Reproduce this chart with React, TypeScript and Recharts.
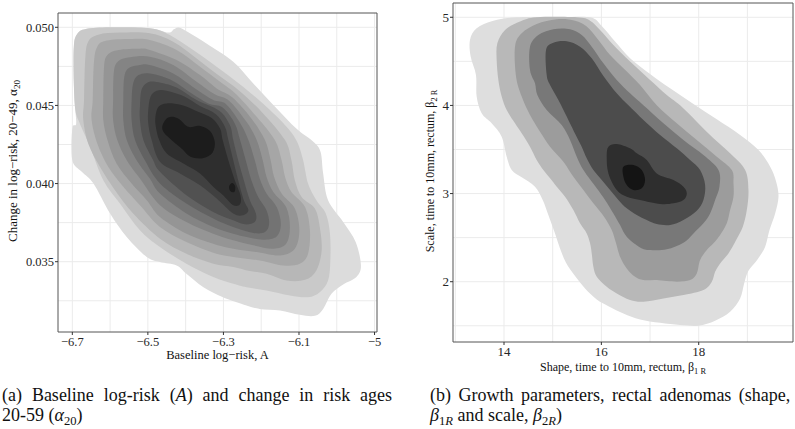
import React from 'react'
import { ScatterChart, Scatter, XAxis, YAxis, CartesianGrid, ReferenceArea } from 'recharts'

type Pt = [number, number]

// ---- panel (a): baseline log-risk A vs change in log-risk alpha20, density bands outer -> inner
const aBand1: Pt[] = [[-6.696,0.04641],[-6.696,0.04876],[-6.687,0.04957],[-6.664,0.04989],[-6.600,0.05000],[-6.495,0.04994],[-6.446,0.04966],[-6.431,0.04987],[-6.418,0.04998],[-6.393,0.04968],[-6.345,0.04897],[-6.274,0.04780],[-6.221,0.04641],[-6.159,0.04481],[-6.107,0.04352],[-6.062,0.04267],[-6.043,0.04203],[-6.036,0.04064],[-6.023,0.03893],[-5.983,0.03754],[-5.950,0.03626],[-5.936,0.03476],[-5.948,0.03402],[-5.983,0.03354],[-6.014,0.03295],[-6.036,0.03198],[-6.058,0.03154],[-6.098,0.03160],[-6.150,0.03188],[-6.204,0.03198],[-6.239,0.03220],[-6.301,0.03273],[-6.353,0.03337],[-6.398,0.03423],[-6.424,0.03476],[-6.468,0.03498],[-6.503,0.03530],[-6.556,0.03658],[-6.600,0.03808],[-6.644,0.04000],[-6.675,0.04075],[-6.700,0.04149],[-6.700,0.04352],[-6.690,0.04380],[-6.692,0.04470]]
const aBand2: Pt[] = [[-6.696,0.04641],[-6.696,0.04876],[-6.687,0.04957],[-6.664,0.04989],[-6.600,0.05000],[-6.495,0.04994],[-6.442,0.04951],[-6.380,0.04855],[-6.318,0.04748],[-6.248,0.04620],[-6.186,0.04491],[-6.133,0.04363],[-6.105,0.04267],[-6.089,0.04149],[-6.076,0.04000],[-6.054,0.03893],[-6.029,0.03808],[-6.018,0.03679],[-6.017,0.03508],[-6.023,0.03380],[-6.045,0.03305],[-6.076,0.03273],[-6.124,0.03284],[-6.186,0.03316],[-6.239,0.03337],[-6.274,0.03359],[-6.327,0.03402],[-6.398,0.03487],[-6.468,0.03594],[-6.521,0.03701],[-6.574,0.03872],[-6.618,0.04021],[-6.653,0.04235],[-6.681,0.04389],[-6.692,0.04470]]
const aBand3: Pt[] = [[-6.669,0.04534],[-6.666,0.04791],[-6.658,0.04908],[-6.631,0.04953],[-6.574,0.04966],[-6.495,0.04962],[-6.433,0.04908],[-6.371,0.04801],[-6.314,0.04694],[-6.258,0.04594],[-6.195,0.04449],[-6.137,0.04278],[-6.120,0.04149],[-6.111,0.04021],[-6.093,0.03914],[-6.058,0.03840],[-6.045,0.03722],[-6.040,0.03572],[-6.054,0.03444],[-6.084,0.03384],[-6.133,0.03380],[-6.186,0.03423],[-6.230,0.03440],[-6.274,0.03466],[-6.327,0.03487],[-6.398,0.03551],[-6.468,0.03647],[-6.539,0.03808],[-6.587,0.03957],[-6.627,0.04107],[-6.658,0.04256],[-6.671,0.04406]]
const aBand4: Pt[] = [[-6.646,0.04534],[-6.643,0.04769],[-6.634,0.04876],[-6.609,0.04915],[-6.547,0.04925],[-6.495,0.04919],[-6.424,0.04855],[-6.362,0.04748],[-6.309,0.04652],[-6.267,0.04573],[-6.212,0.04427],[-6.164,0.04278],[-6.146,0.04149],[-6.137,0.04043],[-6.120,0.03946],[-6.084,0.03850],[-6.071,0.03701],[-6.076,0.03551],[-6.098,0.03487],[-6.142,0.03476],[-6.204,0.03508],[-6.274,0.03530],[-6.327,0.03558],[-6.398,0.03626],[-6.468,0.03722],[-6.521,0.03861],[-6.565,0.03979],[-6.605,0.04107],[-6.634,0.04256],[-6.649,0.04406]]
const aBand5: Pt[] = [[-6.618,0.04534],[-6.616,0.04748],[-6.607,0.04823],[-6.578,0.04855],[-6.521,0.04863],[-6.495,0.04855],[-6.424,0.04791],[-6.362,0.04694],[-6.318,0.04609],[-6.276,0.04551],[-6.226,0.04417],[-6.190,0.04278],[-6.175,0.04149],[-6.166,0.04043],[-6.146,0.03936],[-6.111,0.03840],[-6.099,0.03701],[-6.111,0.03583],[-6.150,0.03540],[-6.212,0.03562],[-6.274,0.03583],[-6.327,0.03615],[-6.398,0.03679],[-6.468,0.03786],[-6.503,0.03893],[-6.543,0.04000],[-6.583,0.04128],[-6.607,0.04278],[-6.618,0.04406]]
const aBand6: Pt[] = [[-6.592,0.04534],[-6.590,0.04716],[-6.578,0.04784],[-6.547,0.04808],[-6.495,0.04812],[-6.433,0.04759],[-6.371,0.04652],[-6.323,0.04571],[-6.285,0.04530],[-6.239,0.04395],[-6.212,0.04278],[-6.196,0.04149],[-6.186,0.04043],[-6.168,0.03946],[-6.134,0.03850],[-6.124,0.03722],[-6.134,0.03615],[-6.168,0.03583],[-6.221,0.03605],[-6.274,0.03637],[-6.327,0.03679],[-6.398,0.03754],[-6.468,0.03861],[-6.521,0.04032],[-6.556,0.04149],[-6.581,0.04278],[-6.592,0.04406]]
const aBand7: Pt[] = [[-6.565,0.04534],[-6.563,0.04673],[-6.552,0.04737],[-6.521,0.04759],[-6.495,0.04759],[-6.433,0.04705],[-6.371,0.04602],[-6.327,0.04534],[-6.293,0.04508],[-6.255,0.04385],[-6.234,0.04278],[-6.217,0.04149],[-6.204,0.04032],[-6.186,0.03936],[-6.159,0.03850],[-6.148,0.03743],[-6.159,0.03662],[-6.195,0.03641],[-6.239,0.03658],[-6.274,0.03679],[-6.327,0.03722],[-6.398,0.03808],[-6.468,0.03936],[-6.495,0.04032],[-6.530,0.04149],[-6.556,0.04278],[-6.565,0.04406]]
const aBand8: Pt[] = [[-6.543,0.04534],[-6.539,0.04641],[-6.525,0.04694],[-6.495,0.04705],[-6.442,0.04667],[-6.384,0.04577],[-6.340,0.04513],[-6.302,0.04487],[-6.270,0.04385],[-6.256,0.04278],[-6.241,0.04149],[-6.226,0.04021],[-6.208,0.03914],[-6.186,0.03829],[-6.179,0.03743],[-6.190,0.03690],[-6.221,0.03684],[-6.274,0.03722],[-6.327,0.03776],[-6.398,0.03872],[-6.468,0.04000],[-6.508,0.04149],[-6.534,0.04278],[-6.543,0.04406]]
const aBand9: Pt[] = [[-6.521,0.04491],[-6.517,0.04598],[-6.502,0.04645],[-6.477,0.04650],[-6.424,0.04615],[-6.371,0.04534],[-6.311,0.04466],[-6.283,0.04374],[-6.274,0.04278],[-6.261,0.04149],[-6.246,0.04021],[-6.230,0.03893],[-6.214,0.03808],[-6.217,0.03754],[-6.243,0.03739],[-6.274,0.03765],[-6.327,0.03818],[-6.398,0.03925],[-6.468,0.04075],[-6.486,0.04149],[-6.512,0.04278],[-6.521,0.04406]]
const aBand10: Pt[] = [[-6.499,0.04470],[-6.493,0.04556],[-6.477,0.04594],[-6.450,0.04594],[-6.402,0.04556],[-6.362,0.04496],[-6.320,0.04444],[-6.296,0.04363],[-6.287,0.04278],[-6.274,0.04149],[-6.261,0.04021],[-6.246,0.03893],[-6.234,0.03829],[-6.248,0.03797],[-6.274,0.03808],[-6.318,0.03904],[-6.362,0.03989],[-6.415,0.04064],[-6.468,0.04139],[-6.490,0.04278],[-6.499,0.04385]]
const aBand11: Pt[] = [[-6.480,0.04427],[-6.472,0.04491],[-6.450,0.04513],[-6.411,0.04502],[-6.367,0.04459],[-6.331,0.04419],[-6.309,0.04352],[-6.302,0.04278],[-6.287,0.04149],[-6.270,0.04021],[-6.255,0.03925],[-6.256,0.03867],[-6.274,0.03861],[-6.301,0.03925],[-6.327,0.03979],[-6.362,0.04064],[-6.406,0.04128],[-6.450,0.04192],[-6.470,0.04278],[-6.479,0.04363]]
const aBand12: Pt[] = [[-6.461,0.04374],[-6.446,0.04423],[-6.420,0.04417],[-6.393,0.04363],[-6.364,0.04370],[-6.336,0.04338],[-6.323,0.04267],[-6.329,0.04197],[-6.355,0.04162],[-6.387,0.04171],[-6.411,0.04224],[-6.442,0.04288],[-6.459,0.04331]]
const aSpot: Pt[] = [[-6.277,0.04004],[-6.269,0.03983],[-6.271,0.03946],[-6.282,0.03953],[-6.285,0.03983]]

const aLevels = [aBand1, aBand2, aBand3, aBand4, aBand5, aBand6, aBand7, aBand8, aBand9, aBand10, aBand11, aBand12, aSpot]
const aFills = ['#dcdcdc', '#c9c9c9', '#b7b7b7', '#a6a6a6', '#959595', '#848484', '#737373', '#626262', '#515151', '#404040', '#2e2e2e', '#1c1c1c', '#1c1c1c']

const aXTicks = [-6.7, -6.5, -6.3, -6.1, -5.9]
const aXGrid = [-6.7, -6.6, -6.5, -6.4, -6.3, -6.2, -6.1, -6.0, -5.9]
const aYTicks = [0.035, 0.04, 0.045, 0.05]
const aYGrid = [0.0325, 0.035, 0.0375, 0.04, 0.0425, 0.045, 0.0475, 0.05]
const aXDomain: Pt = [-6.7379, -5.8935]
const aYDomain: Pt = [0.030501, 0.050915]

// ---- panel (b): shape beta1R vs scale beta2R, rectal adenomas
const bBand1: Pt[] = [[13.315,4.554],[13.301,4.743],[13.438,4.875],[13.781,4.962],[14.260,5.000],[15.151,5.000],[15.768,5.000],[16.008,4.902],[16.282,4.724],[16.590,4.535],[17.001,4.357],[17.412,4.194],[17.892,4.016],[18.371,3.842],[18.851,3.664],[19.228,3.494],[19.468,3.305],[19.591,3.135],[19.639,2.964],[19.570,2.775],[19.454,2.586],[19.365,2.397],[19.207,2.253],[19.022,2.124],[18.933,1.981],[18.851,1.810],[18.645,1.659],[18.337,1.557],[17.995,1.500],[17.618,1.508],[17.207,1.534],[16.795,1.572],[16.453,1.640],[16.145,1.723],[15.905,1.799],[15.665,1.924],[15.459,2.064],[15.274,2.215],[15.151,2.378],[15.048,2.548],[14.911,2.756],[14.795,2.927],[14.637,3.078],[14.363,3.184],[14.158,3.267],[14.055,3.418],[13.952,3.645],[13.746,3.797],[13.541,3.910],[13.438,4.100],[13.424,4.345]]
const bBand2: Pt[] = [[13.849,4.516],[13.863,4.705],[14.021,4.856],[14.329,4.951],[14.671,5.000],[15.494,5.000],[15.768,4.962],[15.973,4.856],[16.247,4.686],[16.590,4.497],[17.001,4.289],[17.344,4.118],[17.618,4.001],[17.960,3.816],[18.303,3.627],[18.645,3.456],[18.954,3.267],[19.022,3.040],[18.988,2.813],[18.906,2.624],[18.769,2.473],[18.611,2.321],[18.440,2.208],[18.337,2.113],[18.269,2.000],[18.097,1.905],[17.686,1.848],[17.275,1.810],[16.864,1.773],[16.590,1.792],[16.316,1.867],[16.110,1.943],[15.905,2.056],[15.836,2.170],[15.802,2.321],[15.768,2.435],[15.699,2.548],[15.562,2.662],[15.425,2.813],[15.254,2.964],[15.083,3.078],[14.946,3.173],[14.808,3.267],[14.671,3.381],[14.534,3.532],[14.363,3.684],[14.226,3.797],[14.055,3.948],[13.952,4.100],[13.884,4.289]]
const bBand3: Pt[] = [[14.247,4.327],[14.226,4.667],[14.363,4.818],[14.671,4.924],[15.083,4.977],[15.459,4.962],[15.699,4.894],[15.939,4.743],[16.179,4.572],[16.453,4.421],[16.795,4.232],[17.138,4.001],[17.549,3.797],[17.960,3.608],[18.371,3.418],[18.680,3.267],[18.714,3.116],[18.714,2.964],[18.645,2.813],[18.577,2.662],[18.440,2.529],[18.303,2.435],[18.166,2.359],[18.029,2.246],[17.960,2.094],[17.823,2.019],[17.549,2.000],[17.138,2.019],[16.864,2.019],[16.693,2.056],[16.521,2.151],[16.384,2.283],[16.302,2.435],[16.213,2.586],[16.055,2.737],[15.836,2.889],[15.631,3.040],[15.425,3.191],[15.220,3.362],[14.946,3.532],[14.740,3.702],[14.534,3.891],[14.363,4.100]]
const bBand4: Pt[] = [[14.534,4.402],[14.534,4.667],[14.706,4.799],[15.014,4.864],[15.357,4.864],[15.596,4.799],[15.802,4.667],[16.042,4.478],[16.316,4.289],[16.590,4.137],[16.864,4.001],[17.275,3.797],[17.686,3.608],[18.097,3.437],[18.406,3.267],[18.426,3.078],[18.337,2.927],[18.234,2.775],[18.097,2.662],[17.892,2.548],[17.686,2.442],[17.344,2.367],[17.001,2.359],[16.795,2.389],[16.521,2.510],[16.384,2.643],[16.247,2.775],[16.076,2.927],[15.905,3.059],[15.631,3.267],[15.494,3.418],[15.357,3.608],[15.185,3.778],[14.877,3.948],[14.685,4.118],[14.637,4.251]]
const bBand5: Pt[] = [[14.877,4.345],[14.863,4.629],[15.014,4.712],[15.288,4.728],[15.562,4.667],[15.802,4.535],[16.042,4.334],[16.316,4.137],[16.556,4.001],[16.864,3.835],[17.207,3.664],[17.549,3.513],[17.823,3.381],[18.029,3.267],[18.132,3.097],[18.097,2.927],[17.960,2.806],[17.686,2.700],[17.412,2.643],[17.138,2.654],[16.932,2.700],[16.727,2.756],[16.521,2.832],[16.350,2.927],[16.179,3.040],[16.008,3.154],[15.836,3.267],[15.699,3.400],[15.596,3.532],[15.439,3.702],[15.288,3.873],[15.117,4.062],[14.946,4.232]]
const bBand6: Pt[] = [[16.145,3.532],[16.316,3.562],[16.590,3.513],[16.727,3.456],[16.932,3.381],[17.138,3.229],[17.481,3.154],[17.686,3.078],[17.755,3.002],[17.686,2.927],[17.481,2.889],[17.207,2.881],[16.795,2.927],[16.521,2.964],[16.316,3.040],[16.145,3.229],[16.110,3.418]]
const bBand7: Pt[] = [[16.453,3.305],[16.658,3.324],[16.830,3.267],[16.898,3.154],[16.830,3.059],[16.658,3.040],[16.521,3.097],[16.453,3.191]]

const bLevels = [bBand1, bBand2, bBand3, bBand4, bBand5, bBand6, bBand7]
const bFills = ['#dedede', '#b8b8b8', '#9c9c9c', '#787878', '#4c4c4c', '#2e2e2e', '#141414']

const bXTicks = [14, 16, 18]
const bXGrid = [13, 14, 15, 16, 17, 18, 19]
const bYTicks = [2, 3, 4, 5]
const bYGrid = [1.5, 2, 2.5, 3, 3.5, 4, 4.5, 5]
const bXDomain: Pt = [12.952, 19.937]
const bYDomain: Pt = [1.316, 5.162]

const serif = '"Liberation Serif", "Times New Roman", serif'

// closed catmull-rom through the pixel points recharts hands us
function smoothClosed(pts: { x: number; y: number }[]) {
  const n = pts.length
  let d = `M${pts[0].x},${pts[0].y}`
  for (let i = 0; i < n; i++) {
    const p0 = pts[(i - 1 + n) % n], p1 = pts[i], p2 = pts[(i + 1) % n], p3 = pts[(i + 2) % n]
    const c1x = p1.x + (p2.x - p0.x) / 6, c1y = p1.y + (p2.y - p0.y) / 6
    const c2x = p2.x - (p3.x - p1.x) / 6, c2y = p2.y - (p3.y - p1.y) / 6
    d += `C${c1x},${c1y} ${c2x},${c2y} ${p2.x},${p2.y}`
  }
  return d + 'Z'
}

function Blob(props: any) {
  const { points, tone } = props
  if (!points || points.length < 3) return null
  return <path d={smoothClosed(points)} fill={tone} stroke="none" />
}

const NoDot = () => null

const toObjs = (pts: Pt[]) => pts.map(([x, y]) => ({ x, y }))

const minus = (v: number) => (v < 0 ? '\u2212' : '') + Math.abs(v)

function bands(levels: Pt[][], fills: string[]) {
  return levels.map((lv, i) => (
    <Scatter key={i} data={toObjs(lv)} fill={fills[i]} line={<Blob tone={fills[i]} />}
      lineType="joint" shape={NoDot} isAnimationActive={false} />
  ))
}

const sub = { fontSize: '70%', verticalAlign: '-0.3em', lineHeight: 0 } as const

export default function App() {
  const tickA = { fill: '#262626', fontSize: 12.5, fontFamily: serif }
  const tickB = { fill: '#262626', fontSize: 13, fontFamily: serif }
  const capLine = { position: 'absolute', fontSize: 18, lineHeight: '20px', whiteSpace: 'nowrap' } as const
  return (
    <div style={{ position: 'absolute', left: 0, top: 0, width: 795, height: 429, background: '#fff', fontFamily: serif, color: '#111', overflow: 'hidden' }}>
      <div style={{ position: 'absolute', left: 0, top: 0 }}>
        <ScatterChart width={390} height={375} margin={{ top: 13, right: 13, bottom: 0, left: 0 }}>
          <CartesianGrid stroke="#ebebeb" verticalValues={aXGrid} horizontalValues={aYGrid} />
          <XAxis type="number" dataKey="x" domain={aXDomain} allowDataOverflow ticks={aXTicks} interval={0}
            height={43} tick={tickA} tickSize={3} tickMargin={2} tickLine={{ stroke: '#333' }} axisLine={false}
            tickFormatter={(v: number) => (v === -5.9 ? '\u22125' : minus(v).replace(/^(\u2212?\d)$/, '$1.0'))} />
          <YAxis type="number" dataKey="y" domain={aYDomain} allowDataOverflow ticks={aYTicks} interval={0}
            width={58} tick={tickA} tickSize={3} tickMargin={1} tickLine={{ stroke: '#333' }} axisLine={false}
            tickFormatter={(v: number) => v.toFixed(3)} />
          {bands(aLevels, aFills)}
          <ReferenceArea x1={aXDomain[0]} x2={aXDomain[1]} y1={aYDomain[0]} y2={aYDomain[1]}
            fill="none" stroke="#555" strokeWidth={1} ifOverflow="visible" />
        </ScatterChart>
      </div>
      <div style={{ position: 'absolute', left: 400, top: 0 }}>
        <ScatterChart width={395} height={380} margin={{ top: 3, right: 2, bottom: 0, left: 0 }}>
          <CartesianGrid stroke="#ebebeb" verticalValues={bXGrid} horizontalValues={bYGrid} />
          <XAxis type="number" dataKey="x" domain={bXDomain} allowDataOverflow ticks={bXTicks} interval={0}
            height={38} tick={tickB} tickSize={3} tickMargin={2} tickLine={{ stroke: '#333' }} axisLine={false} />
          <YAxis type="number" dataKey="y" domain={bYDomain} allowDataOverflow ticks={bYTicks} interval={0}
            width={53} tick={tickB} tickSize={3} tickMargin={1} tickLine={{ stroke: '#333' }} axisLine={false} />
          {bands(bLevels, bFills)}
          <ReferenceArea x1={bXDomain[0]} x2={bXDomain[1]} y1={bYDomain[0]} y2={bYDomain[1]}
            fill="none" stroke="#555" strokeWidth={1} ifOverflow="visible" />
        </ScatterChart>
      </div>

      {/* axis titles */}
      <div style={{ position: 'absolute', left: 58, top: 348, width: 319, textAlign: 'center', fontSize: 12.5, lineHeight: '14px' }}>
        Baseline log{'\u2212'}risk, A
      </div>
      <div style={{ position: 'absolute', left: 13 - 160, top: 161 - 7, width: 320, height: 14, textAlign: 'center', fontSize: 13, lineHeight: '14px', transform: 'rotate(-90deg)' }}>
        Change in log{'\u2212'}risk, 20{'\u2212'}49, {'\u03b1'}<span style={sub}>20</span>
      </div>
      <div style={{ position: 'absolute', left: 453, top: 360, width: 340, textAlign: 'center', fontSize: 12, lineHeight: '14px' }}>
        Shape, time to 10mm, rectum, {'\u03b2'}<span style={sub}>1 R</span>
      </div>
      <div style={{ position: 'absolute', left: 430 - 160, top: 171 - 7, width: 320, height: 14, textAlign: 'center', fontSize: 12, lineHeight: '14px', transform: 'rotate(-90deg)' }}>
        Scale, time to 10mm, rectum, {'\u03b2'}<span style={sub}>2 R</span>
      </div>

      {/* captions */}
      <div style={{ ...capLine, left: 2, top: 385, wordSpacing: '5.4px' }}>
        (a) Baseline log-risk (<i>A</i>) and change in risk ages
      </div>
      <div style={{ ...capLine, left: 2, top: 405 }}>
        20-59 (<i>{'\u03b1'}</i><span style={sub}>20</span>)
      </div>
      <div style={{ ...capLine, left: 430, top: 385, wordSpacing: '3px' }}>
        (b) Growth parameters, rectal adenomas (shape,
      </div>
      <div style={{ ...capLine, left: 430, top: 405 }}>
        <i>{'\u03b2'}</i><span style={sub}>1<i>R</i></span> and scale, <i>{'\u03b2'}</i><span style={sub}>2<i>R</i></span>)
      </div>
    </div>
  )
}
